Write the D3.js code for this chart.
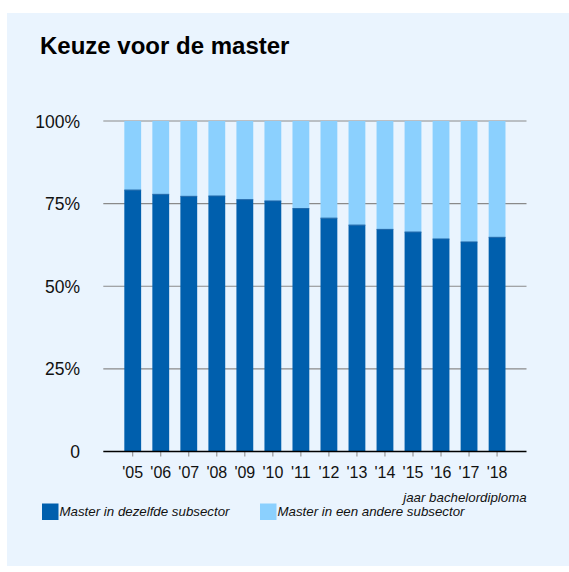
<!DOCTYPE html>
<html>
<head>
<meta charset="utf-8">
<script src="https://cdn.jsdelivr.net/npm/d3@7"></script>
<style>
  html, body { margin: 0; padding: 0; background: #fff; }
  svg { display: block; font-family: "Liberation Sans", Arial, Helvetica, sans-serif; }
</style>
</head>
<body>
<svg id="chart" width="569" height="572"></svg>
<script>
const years = ["'05", "'06", "'07", "'08", "'09", "'10", "'11", "'12", "'13", "'14", "'15", "'16", "'17", "'18"];
const sameSubsector = [79.1, 77.8, 77.2, 77.3, 76.2, 75.8, 73.5, 70.6, 68.5, 67.2, 66.4, 64.3, 63.4, 64.8];
const otherSubsector = sameSubsector.map(v => 100 - v);
const yTicks = [0, 25, 50, 75, 100];
const seriesNames = ["Master in dezelfde subsector", "Master in een andere subsector"];
const colors = ["#005fad", "#8bd0fe"];

(() => {
  const width = 569;
  const left = 103.3, right = 526.5, top = 121, bottom = 451.5;

  const svg = d3.select("#chart");

  svg.append("rect")
    .attr("x", 7).attr("y", 13)
    .attr("width", width - 7).attr("height", 553)
    .attr("fill", "#eaf4fe");

  svg.append("text")
    .attr("x", 40).attr("y", 54)
    .style("font-size", "24px")
    .style("font-weight", "bold")
    .attr("fill", "#000")
    .text("Keuze voor de master");

  const x = d3.scaleBand()
    .domain(years)
    .range([left, right])
    .paddingInner(0.4)
    .paddingOuter(0.75);

  const y = d3.scaleLinear()
    .domain([0, 100])
    .range([bottom, top]);

  // gridlines + labels
  svg.append("g").selectAll("line")
    .data(yTicks.filter(d => d > 0))
    .join("line")
    .attr("x1", left).attr("x2", right)
    .attr("y1", d => y(d)).attr("y2", d => y(d))
    .attr("stroke", "#8a8a8a")
    .attr("stroke-width", 1.2);

  svg.append("g").selectAll("text")
    .data(yTicks)
    .join("text")
    .attr("x", 80)
    .attr("y", d => y(d) + 6.5)
    .attr("text-anchor", "end")
    .style("font-size", "17.5px")
    .attr("fill", "#111")
    .text(d => d === 0 ? "0" : d + "%");

  const stackData = years.map((yr, i) => ({ year: yr, same: sameSubsector[i], other: otherSubsector[i] }));
  const stack = d3.stack().keys(["same", "other"])(stackData);

  svg.append("g").selectAll("g")
    .data(stack)
    .join("g")
    .attr("fill", (d, i) => colors[i])
    .selectAll("rect")
    .data(d => d)
    .join("rect")
    .attr("x", d => x(d.data.year))
    .attr("width", x.bandwidth())
    .attr("y", d => y(d[1]))
    .attr("height", d => y(d[0]) - y(d[1]));

  // thin edge on top of dark segment
  svg.append("g").selectAll("line")
    .data(stackData)
    .join("line")
    .attr("x1", d => x(d.year)).attr("x2", d => x(d.year) + x.bandwidth())
    .attr("y1", d => y(d.same)).attr("y2", d => y(d.same))
    .attr("stroke", "#1a63a6")
    .attr("stroke-width", 1);

  // x axis
  const xAxis = svg.append("g")
    .attr("transform", `translate(0, ${bottom})`)
    .call(d3.axisBottom(x).tickSize(5).tickPadding(10).tickSizeOuter(0));
  xAxis.select(".domain").remove();
  xAxis.selectAll(".tick line").attr("stroke", "#888");
  xAxis.selectAll(".tick text")
    .attr("fill", "#111")
    .style("font-size", "16px")
    .style("font-family", "\"Liberation Sans\", Arial, sans-serif");

  svg.append("line")
    .attr("x1", left).attr("x2", right)
    .attr("y1", bottom).attr("y2", bottom)
    .attr("stroke", "#000")
    .attr("stroke-width", 1.6);

  svg.append("text")
    .attr("x", 526.7).attr("y", 502)
    .attr("text-anchor", "end")
    .style("font-size", "13.3px")
    .style("font-style", "italic")
    .attr("fill", "#111")
    .text("jaar bachelordiploma");

  // legend
  const legendX = [42, 260];
  const legend = svg.append("g").selectAll("g")
    .data(seriesNames)
    .join("g")
    .attr("transform", (d, i) => `translate(${legendX[i]}, 503.5)`);
  legend.append("rect")
    .attr("width", 16.5).attr("height", 16.5)
    .attr("fill", (d, i) => colors[i]);
  legend.append("text")
    .attr("x", 17.5).attr("y", 12.5)
    .style("font-size", "13.3px")
    .style("font-style", "italic")
    .attr("fill", "#111")
    .text(d => d);
})();
</script>
</body>
</html>
